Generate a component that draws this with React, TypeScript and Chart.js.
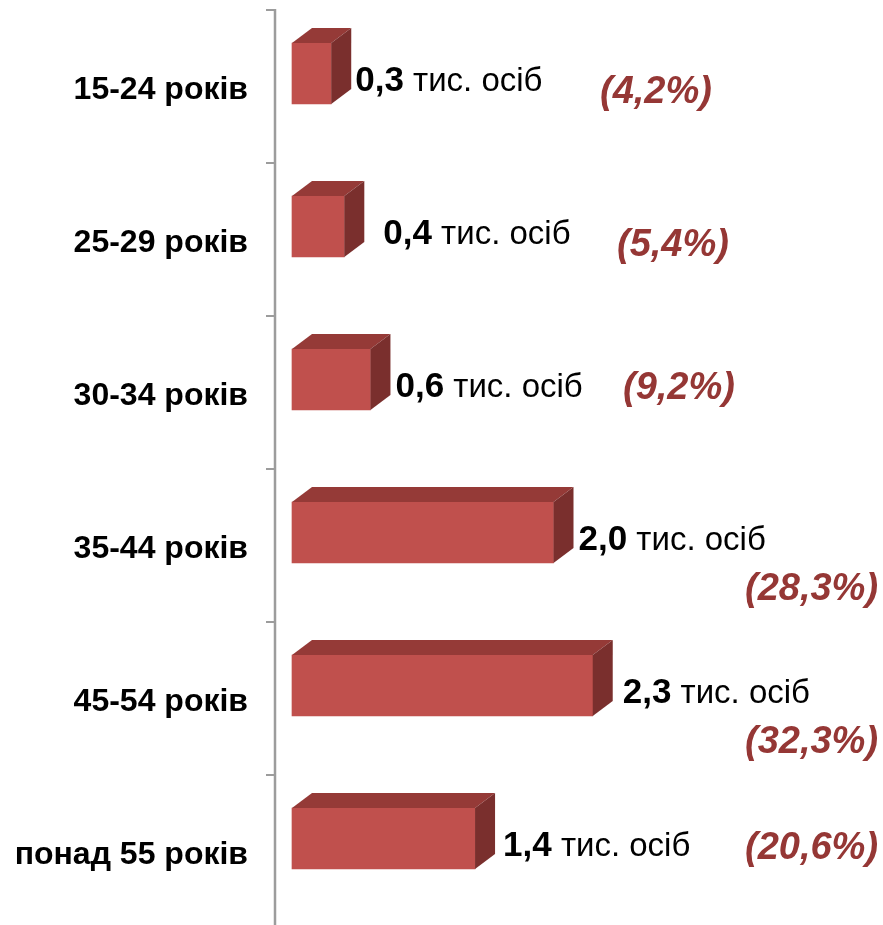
import React, { useEffect, useRef } from 'react';
import { Chart, registerables } from 'chart.js';

Chart.register(...registerables);

// ---- data ----
const CATEGORIES = ['15-24 років', '25-29 років', '30-34 років', '35-44 років', '45-54 років', 'понад 55 років'];
const VALUES = [0.3, 0.4, 0.6, 2.0, 2.3, 1.4];
const SHARES = [4.2, 5.4, 9.2, 28.3, 32.3, 20.6];
const UNIT = 'тис. осіб';
const X_MAX = 4.52;

// ---- layout / style ----
const FONT = '"Liberation Sans", Arial, Helvetica, sans-serif';
const FRONT = '#C0504D';
const TOP = '#953A37';
const SIDE = '#7A2F2D';
const PCT_COLOR = '#953735';
const AXIS_COLOR = '#9C9C9C';
const DEPTH_X = 20;
const DEPTH_Y = 15;
const LIFT = 13;
const AXIS_GAP = 17;
const VALUE_GAP = [4, 19, 5, 5, 10, 8];
const PCT_X = [600, 617, 623, 745, 745, 745];
const PCT_DY = [16.5, 16, 6, 54, 54, 7];

const fmt = (v: number) => v.toFixed(1).replace('.', ',');

const bar3d = {
  id: 'bar3d',
  beforeDatasetsDraw(chart: any) {
    const ctx = chart.ctx;
    const { top, left } = chart.chartArea;
    const n = CATEGORIES.length;
    const band = (chart.chartArea.bottom - top) / n;
    const ax = left - AXIS_GAP;
    ctx.save();
    ctx.strokeStyle = AXIS_COLOR;
    ctx.lineWidth = 2.5;
    ctx.beginPath();
    ctx.moveTo(ax, top - 1);
    ctx.lineTo(ax, chart.height);
    ctx.stroke();
    ctx.lineWidth = 2;
    ctx.beginPath();
    for (let i = 0; i <= n; i++) {
      const yy = top + i * band;
      ctx.moveTo(ax - 9, yy);
      ctx.lineTo(ax, yy);
    }
    ctx.stroke();
    ctx.restore();
    ctx.save();
    ctx.translate(0, -LIFT);
  },
  afterDatasetsDraw(chart: any) {
    const ctx = chart.ctx;
    const meta = chart.getDatasetMeta(0);
    meta.data.forEach((el: any) => {
      const { x, y, base, height } = el.getProps(['x', 'y', 'base', 'height'], true);
      const t = y - height / 2;
      const b = y + height / 2;
      ctx.fillStyle = TOP;
      ctx.beginPath();
      ctx.moveTo(base, t);
      ctx.lineTo(x, t);
      ctx.lineTo(x + DEPTH_X, t - DEPTH_Y);
      ctx.lineTo(base + DEPTH_X, t - DEPTH_Y);
      ctx.closePath();
      ctx.fill();
      ctx.fillStyle = SIDE;
      ctx.beginPath();
      ctx.moveTo(x, t);
      ctx.lineTo(x + DEPTH_X, t - DEPTH_Y);
      ctx.lineTo(x + DEPTH_X, b - DEPTH_Y);
      ctx.lineTo(x, b);
      ctx.closePath();
      ctx.fill();
    });
    ctx.restore();

    ctx.save();
    ctx.textAlign = 'left';
    ctx.textBaseline = 'alphabetic';
    meta.data.forEach((el: any, i: number) => {
      const { x, y } = el.getProps(['x', 'y'], true);
      let tx = x + DEPTH_X + VALUE_GAP[i];
      const by = y + 4;
      const num = fmt(VALUES[i]);
      ctx.fillStyle = '#000';
      ctx.font = `bold 35px ${FONT}`;
      ctx.fillText(num, tx, by);
      tx += ctx.measureText(num).width;
      ctx.font = `33px ${FONT}`;
      ctx.fillText(' ' + UNIT, tx, by);
      ctx.fillStyle = PCT_COLOR;
      ctx.font = `italic bold 38px ${FONT}`;
      ctx.fillText(`(${fmt(SHARES[i])}%)`, PCT_X[i], y + PCT_DY[i]);
    });
    ctx.restore();
  },
};

export default function App() {
  const ref = useRef<HTMLCanvasElement>(null);
  useEffect(() => {
    const chart = new Chart(ref.current as HTMLCanvasElement, {
      type: 'bar',
      data: {
        labels: CATEGORIES,
        datasets: [
          {
            data: VALUES,
            backgroundColor: FRONT,
            borderWidth: 0,
            barThickness: 61,
            clip: false as any,
          },
        ],
      },
      options: {
        indexAxis: 'y',
        responsive: false,
        animation: false,
        events: [],
        layout: { padding: { top: 10, bottom: 3, left: 0, right: 0 } },
        plugins: { legend: { display: false }, tooltip: { enabled: false } },
        scales: {
          x: { display: false, min: 0, max: X_MAX },
          y: {
            offset: true,
            grid: { display: false, drawTicks: false },
            border: { display: false },
            ticks: {
              autoSkip: false,
              padding: 44,
              labelOffset: 4,
              color: '#000',
              font: { family: FONT, size: 32, weight: 'bold' },
            },
            afterFit(scale: any) {
              scale.width = 292;
              scale.paddingTop = 0;
              scale.paddingBottom = 0;
            },
          },
        },
      },
      plugins: [bar3d],
    });
    return () => chart.destroy();
  }, []);
  return (
    <div
      style={{
        position: 'absolute',
        left: 0,
        top: 0,
        width: 883,
        height: 925,
        overflow: 'hidden',
        background: '#fff',
      }}
    >
      <canvas ref={ref} width={883} height={931} style={{ display: 'block' }} />
    </div>
  );
}
